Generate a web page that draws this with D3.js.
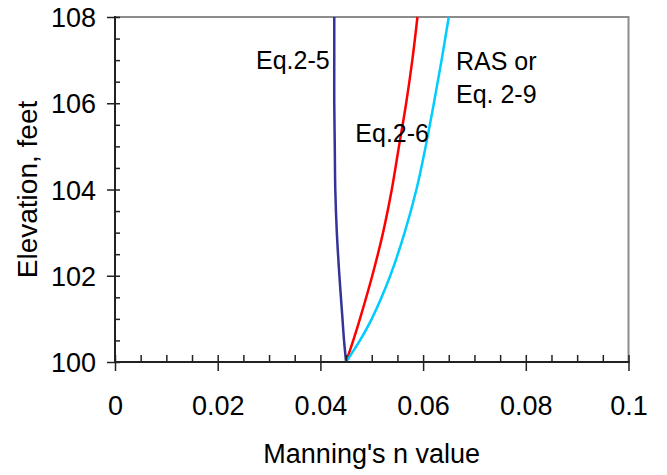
<!DOCTYPE html>
<html lang="en">
<head>
<meta charset="utf-8">
<title>Manning's n vs elevation</title>
<script src="https://d3js.org/d3.v7.min.js"></script>
<style>
  body { margin: 0; background: #fff; }
  svg text { font-family: "Liberation Sans", Arial, sans-serif; fill: #000; }
</style>
</head>
<body>
<div id="chart"></div>
<script>
  var w = 667, h = 475;
  var margin = {left: 115, right: 38.5, top: 17, bottom: 113};

  // data
  var elevation = [100, 100.5, 101, 102, 103, 104, 105, 106, 107, 108];
  var eq25 = [0.0450, 0.0446, 0.0443, 0.0437, 0.0432, 0.0429, 0.0428, 0.0427, 0.0427, 0.0427];
  var eq26 = [0.0450, 0.0464, 0.0477, 0.0501, 0.0522, 0.0539, 0.0553, 0.0567, 0.0579, 0.0589];
  var ras  = [0.0450, 0.0477, 0.0500, 0.0536, 0.0564, 0.0587, 0.0605, 0.0621, 0.0636, 0.0650];

  var xMajor = [0, 0.02, 0.04, 0.06, 0.08, 0.1];
  var xMinor = d3.range(0, 0.1001, 0.005);
  var yMajor = [100, 102, 104, 106, 108];
  var yMinor = d3.range(100, 108.01, 0.5);

  var series = [
    {name: "Eq.2-5", n: eq25, color: "#333399"},
    {name: "Eq.2-6", n: eq26, color: "#ff0000"},
    {name: "RAS", n: ras, color: "#00ccff"}
  ];

  var labels = [
    {lines: ["Eq.2-5"], x: 0.0418, y: 106.8, anchor: "end"},
    {lines: ["Eq.2-6"], x: 0.0468, y: 105.1, anchor: "start"},
    {lines: ["RAS or", "Eq. 2-9"], x: 0.0664, y: 106.77, anchor: "start"}
  ];

  var x = d3.scaleLinear().domain([0, 0.1]).range([margin.left, w - margin.right]);
  var y = d3.scaleLinear().domain([100, 108]).range([h - margin.bottom, margin.top]);

  var svg = d3.select("#chart").append("svg")
    .attr("width", w)
    .attr("height", h);

  // plot frame (top and right are grey)
  svg.append("rect")
    .attr("x", x(0)).attr("y", y(108))
    .attr("width", x(0.1) - x(0)).attr("height", y(100) - y(108))
    .attr("fill", "none")
    .attr("stroke", "#8c8c8c")
    .attr("stroke-width", 2);

  // curves
  var line = d3.line()
    .x(function(d) { return x(d[0]); })
    .y(function(d) { return y(d[1]); })
    .curve(d3.curveCatmullRom.alpha(0.5));

  series.forEach(function(s) {
    svg.append("path")
      .datum(s.n.map(function(v, i) { return [v, elevation[i]]; }))
      .attr("fill", "none")
      .attr("stroke", s.color)
      .attr("stroke-width", 2.5)
      .attr("d", line);
  });

  // x axis: inner minor ticks + outer major ticks with labels
  svg.append("g")
    .attr("transform", "translate(0," + y(100) + ")")
    .call(d3.axisBottom(x).tickValues(xMinor).tickSize(-7).tickSizeOuter(0).tickFormat(""));

  var xAxis = svg.append("g")
    .attr("transform", "translate(0," + y(100) + ")")
    .call(d3.axisBottom(x).tickValues(xMajor).tickSize(9).tickSizeOuter(0)
      .tickFormat(function(d) { return d === 0 ? "0" : String(+d.toFixed(2)); }));
  xAxis.selectAll("text")
    .attr("y", 53).attr("dy", 0)
    .style("font-size", "27px");

  // y axis
  svg.append("g")
    .attr("transform", "translate(" + x(0) + ",0)")
    .call(d3.axisLeft(y).tickValues(yMinor).tickSize(-5).tickSizeOuter(0).tickFormat(""));

  var yAxis = svg.append("g")
    .attr("transform", "translate(" + x(0) + ",0)")
    .call(d3.axisLeft(y).tickValues(yMajor).tickSize(8).tickSizeOuter(0).tickPadding(11));
  yAxis.selectAll("text")
    .attr("dy", "0.36em")
    .style("font-size", "27px");

  svg.selectAll(".tick line").attr("stroke", "#222").attr("stroke-width", 1.5);
  svg.selectAll(".domain").remove();

  // dark left and bottom axis lines
  svg.append("line")
    .attr("x1", x(0)).attr("x2", x(0)).attr("y1", y(108) - 1).attr("y2", y(100) + 1)
    .attr("stroke", "#222").attr("stroke-width", 2);
  svg.append("line")
    .attr("x1", x(0) - 1).attr("x2", x(0.1) + 1).attr("y1", y(100)).attr("y2", y(100))
    .attr("stroke", "#222").attr("stroke-width", 2);

  // axis titles
  svg.append("text")
    .attr("x", (x(0) + x(0.1)) / 2)
    .attr("y", 463)
    .attr("text-anchor", "middle")
    .style("font-size", "27px")
    .text("Manning's n value");

  svg.append("text")
    .attr("transform", "translate(37," + (y(104)) + ") rotate(-90)")
    .attr("text-anchor", "middle")
    .style("font-size", "28px")
    .text("Elevation, feet");

  // curve labels
  labels.forEach(function(l) {
    var t = svg.append("text")
      .attr("x", x(l.x))
      .attr("y", y(l.y))
      .attr("text-anchor", l.anchor)
      .style("font-size", "25px");
    l.lines.forEach(function(s, i) {
      t.append("tspan")
        .attr("x", x(l.x))
        .attr("dy", i === 0 ? 0 : 33)
        .text(s);
    });
  });
</script>
</body>
</html>
